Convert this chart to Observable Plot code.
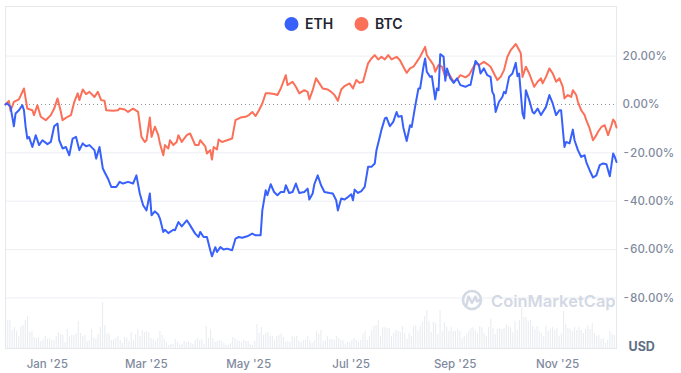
<!DOCTYPE html>
<html>
<head>
<meta charset="utf-8">
<script src="https://cdn.jsdelivr.net/npm/d3@7"></script>
<script src="https://cdn.jsdelivr.net/npm/@observablehq/plot@0.6"></script>
<style>
  html, body { margin: 0; padding: 0; background: #fff; }
  #chart { width: 681px; height: 373px; position: relative; font-family: Inter, "Noto Sans", sans-serif; }
</style>
</head>
<body>
<div id="chart"></div>
<script>
// ---- Data ----
// day offset from 2024-12-07, % change since start
const startDate = new Date(Date.UTC(2024, 11, 7));
const lastDay = 364;

const seriesNames = ["ETH", "BTC"];
const seriesColors = ["#3861fb", "#fb7059"];

const btcSeries = [[0,0],[2,1.5],[3,-2.6],[5,1.1],[8,2.1],[11,6.6],[13,-1.7],[16,-2.4],[17,-4.4],[19,-0.3],[21,-5.1],[24,-6.5],[27,-4.4],[29,-1.7],[31,2.5],[33,-3.1],[34,-6.5],[37,-5.1],[39,-4.4],[41,1.1],[43,4.6],[44,1.8],[46,6.2],[48,4.3],[50,5.2],[53,3.1],[55,5.2],[57,1.8],[59,1.5],[60,-2.4],[64,-2.6],[67,-2.4],[68,-1.7],[71,-2.1],[73,-3.1],[76,-1.7],[79,-3.1],[81,-13.4],[83,-15.5],[84,-14.8],[86,-5.4],[87,-13.4],[89,-9.2],[91,-12.7],[92,-16.1],[94,-21.0],[95,-16.8],[97,-18.2],[98,-14.8],[100,-16.8],[102,-15.5],[103,-12.7],[105,-15.5],[108,-12.7],[110,-12.0],[113,-16.8],[115,-16.8],[116,-14.8],[119,-17.3],[120,-20.3],[122,-18.9],[123,-22.8],[124,-17.6],[126,-18.6],[127,-14.5],[129,-15.5],[132,-14.8],[135,-14.1],[137,-6.5],[140,-5.4],[143,-5.1],[145,-4.4],[147,-3.1],[149,-4.8],[151,-2.4],[153,0.4],[155,4.6],[157,4.6],[160,4.3],[162,3.9],[164,6.6],[167,12.1],[168,8.0],[171,9.4],[173,7.3],[175,4.6],[178,5.9],[180,5.2],[181,2.1],[183,5.9],[185,10.8],[187,8.7],[189,6.6],[192,6.2],[194,5.2],[196,3.9],[198,1.5],[200,6.2],[202,7.6],[205,8.7],[207,6.6],[209,10.1],[211,8.9],[213,9.4],[216,17.0],[218,19.0],[220,20.4],[222,18.6],[224,19.7],[226,18.6],[228,20.4],[230,18.6],[233,19.7],[235,18.3],[237,15.6],[239,13.1],[241,14.9],[243,15.6],[245,17.6],[247,19.7],[250,23.8],[251,20.4],[253,18.3],[255,16.3],[256,13.5],[258,16.3],[260,15.6],[262,11.4],[264,12.8],[267,9.4],[269,10.4],[271,12.1],[274,11.2],[276,12.1],[277,13.2],[280,17.0],[282,16.3],[285,17.6],[287,16.7],[289,15.6],[291,12.8],[293,10.1],[295,11.4],[297,14.2],[299,19.7],[301,22.5],[304,25.0],[306,22.5],[307,21.1],[308,11.4],[310,15.6],[312,12.8],[315,7.3],[317,9.4],[319,10.8],[320,8.7],[322,11.4],[324,14.9],[326,12.8],[328,9.4],[330,10.8],[332,7.3],[333,2.5],[335,3.9],[337,3.1],[338,5.9],[340,3.9],[341,1.1],[343,-2.4],[345,-4.4],[346,-6.5],[348,-9.9],[350,-14.8],[352,-12.7],[353,-11.3],[355,-9.3],[357,-8.6],[359,-12.7],[361,-8.6],[362,-6.2],[363,-7.2],[364,-9.5]];

const ethSeries = [[0,0],[1,0.4],[3,-1.0],[5,-9.0],[6,-3.7],[8,-2.4],[10,-0.3],[11,-2.4],[12,-9.3],[13,-14.1],[14,-13.4],[16,-17.6],[18,-12.7],[20,-16.8],[22,-14.8],[25,-16.4],[27,-15.5],[29,-9.0],[31,-7.9],[32,-14.8],[34,-18.2],[36,-17.6],[38,-21.0],[40,-14.1],[42,-13.4],[44,-18.9],[46,-16.1],[48,-17.3],[50,-16.8],[53,-18.9],[54,-22.4],[56,-17.6],[58,-26.5],[59,-27.9],[61,-30.6],[63,-34.1],[66,-34.1],[68,-32.0],[70,-32.7],[73,-32.0],[76,-32.7],[78,-29.3],[80,-36.8],[82,-41.7],[84,-43.8],[86,-36.8],[87,-45.8],[89,-44.2],[91,-45.5],[92,-47.2],[94,-52.7],[95,-51.8],[97,-53.2],[100,-51.8],[101,-52.0],[103,-48.6],[105,-50.4],[108,-47.9],[110,-50.0],[113,-53.4],[115,-54.8],[116,-52.7],[118,-54.8],[120,-54.8],[122,-60.3],[123,-62.8],[125,-59.0],[126,-61.0],[128,-59.0],[130,-60.0],[132,-59.6],[135,-60.3],[137,-55.5],[139,-54.8],[141,-55.1],[144,-54.5],[147,-53.4],[149,-54.1],[152,-54.1],[153,-43.8],[155,-35.5],[156,-37.5],[158,-33.0],[160,-36.2],[162,-37.5],[164,-36.2],[166,-36.2],[167,-33.4],[169,-36.6],[171,-36.2],[173,-32.7],[175,-36.6],[178,-36.2],[180,-34.8],[181,-39.3],[183,-36.8],[184,-33.0],[186,-29.3],[188,-33.4],[190,-36.2],[193,-36.6],[195,-36.8],[197,-39.6],[198,-43.8],[200,-38.9],[202,-39.3],[204,-38.3],[206,-37.1],[207,-39.6],[208,-35.2],[210,-36.6],[212,-35.8],[214,-34.1],[216,-25.8],[218,-25.8],[220,-24.4],[221,-18.9],[223,-13.4],[224,-10.4],[226,-5.8],[227,-5.4],[229,-9.0],[231,-7.2],[233,-3.1],[234,-5.1],[236,-4.8],[237,-9.5],[239,-15.1],[241,-8.6],[242,-9.3],[244,-1.0],[246,6.6],[247,6.6],[249,15.6],[250,19.0],[251,13.5],[253,11.4],[254,11.7],[256,2.1],[257,6.6],[258,5.9],[259,20.8],[261,19.7],[262,9.8],[263,14.9],[265,10.8],[267,8.9],[269,10.8],[271,8.0],[274,7.3],[276,8.0],[277,8.0],[280,18.0],[282,16.3],[283,12.8],[285,14.9],[287,12.1],[289,11.4],[290,5.2],[291,3.9],[292,-3.1],[294,1.1],[296,3.1],[297,5.2],[298,4.6],[300,11.4],[302,12.8],[304,17.2],[305,11.7],[306,12.8],[308,-3.7],[309,-5.8],[310,5.9],[312,1.8],[314,-3.1],[315,-3.7],[317,-1.7],[319,-4.4],[322,-1.0],[324,3.9],[326,0.4],[328,-4.4],[330,-2.4],[331,-2.4],[333,-17.6],[334,-15.5],[336,-16.1],[338,-10.4],[339,-14.8],[341,-18.9],[343,-21.7],[345,-21.0],[346,-23.8],[348,-27.2],[350,-30.2],[352,-29.3],[354,-25.1],[356,-24.4],[358,-24.7],[360,-29.7],[362,-20.3],[363,-21.7],[364,-23.8]];

// relative trading volume (evenly spaced samples over the year)
const volume = [10,28,28,18,21,17,12,22,23,28,32,16,17,11,10,11,7,8,12,9,10,8,8,12,16,14,13,6,19,12,13,13,15,27,15,12,13,7,8,19,10,9,14,21,46,23,15,14,8,9,10,12,8,5,11,10,7,16,8,14,19,12,18,16,17,16,10,9,7,10,17,13,9,6,3,4,4,9,6,3,4,7,6,7,5,4,8,10,8,9,4,22,
  10,19,10,6,7,8,7,5,3,3,5,11,10,8,7,6,8,7,7,4,3,7,24,15,21,13,15,16,12,12,8,12,13,15,11,6,7,6,12,11,12,7,6,8,8,12,8,5,8,17,14,18,7,8,12,9,9,8,12,10,8,8,4,6,6,8,10,8,6,8,14,17,8,12,18,22,23,28,12,21,21,20,20,12,15,18,17,16,22,15,9,15,12,22,
  23,17,22,26,32,38,27,16,26,25,14,38,17,26,21,17,21,17,17,19,17,10,12,14,17,20,21,18,15,22,21,15,12,21,29,20,14,19,20,19,20,24,22,21,16,27,18,28,42,31,31,27,28,22,19,22,17,15,12,22,17,19,21,18,20,12,15,37,24,20,19,17,21,18,21,18,15,19,23,19,25,15,12,13,9,10,5,8,17,14,13,13];

const yTicks = [20, 0, -20, -40, -60, -80];
const xTicks = ["2025-01-01", "2025-03-01", "2025-05-01", "2025-07-01", "2025-09-01", "2025-11-01"];
const currencyLabel = "USD";
const watermarkText = "CoinMarketCap";

// ---- Build ----
const dayToDate = d => new Date(startDate.getTime() + d * 864e5);
const eth = ethSeries.map(([d, v]) => ({date: dayToDate(d), v}));
const btc = btcSeries.map(([d, v]) => ({date: dayToDate(d), v}));
const Y_MIN = -100.9, Y_MAX = 40.5;
const volY = d3.scaleLinear().domain([0, 50]).range([Y_MIN, Y_MIN + 50 * (Y_MAX - Y_MIN) / 342]);
const vol = volume.map((v, i) => ({date: dayToDate(i * lastDay / (volume.length - 1)), v}));
const grid = "#eceef2";
const tickColor = "#808a9d";
const FONT = "Inter, 'Noto Sans', sans-serif";

const plot = Plot.plot({
  width: 681,
  height: 373,
  marginLeft: 5,
  marginRight: 65,
  marginTop: 6,
  marginBottom: 25,
  style: {fontFamily: FONT, background: "#fff", overflow: "visible"},
  x: {type: "utc", domain: [startDate, dayToDate(lastDay)]},
  y: {domain: [Y_MIN, Y_MAX]},
  marks: [
    Plot.ruleY(yTicks.filter(t => t !== 0), {stroke: grid, strokeWidth: 1}),
    Plot.ruleX(vol, {x: "date", y1: Y_MIN, y2: d => volY(d.v), stroke: "#e9ecf1", strokeWidth: 1.1}),
    Plot.frame({stroke: "#e6e8ec"}),
    Plot.ruleY([0], {stroke: "#8e949e", strokeDasharray: "1,3", strokeWidth: 1}),
    Plot.line(btc, {x: "date", y: "v", stroke: seriesColors[1], strokeWidth: 2, strokeLinejoin: "round"}),
    Plot.line(eth, {x: "date", y: "v", stroke: seriesColors[0], strokeWidth: 2, strokeLinejoin: "round"}),
    Plot.axisY({anchor: "right", ticks: yTicks, tickSize: 0, tickPadding: 6, label: null,
      tickFormat: d => d.toFixed(2) + "%", color: tickColor, fontSize: 11.5, fontWeight: 500}),
    Plot.axisX({ticks: xTicks.map(s => new Date(s + "T00:00:00Z")), tickSize: 0, tickPadding: 11, label: null,
      tickFormat: d3.utcFormat("%b '%y"), color: tickColor, fontSize: 11.5, fontWeight: 500})
  ]
});

document.getElementById("chart").appendChild(plot);

const svg = d3.select(plot);

// watermark
const wm = svg.append("g").attr("pointer-events", "none").attr("text-anchor", "start");
wm.append("circle").attr("cx", 472).attr("cy", 300).attr("r", 9)
  .attr("fill", "none").attr("stroke", "#d3d9e4").attr("stroke-width", 2.6);
wm.append("path").attr("d", "M466.5,305 L468.5,296.5 L472,303 L475.5,296.5 L477,301.5 L479.5,300")
  .attr("fill", "none").attr("stroke", "#d3d9e4").attr("stroke-width", 2.4).attr("stroke-linejoin", "round").attr("stroke-linecap", "round");
wm.append("text").attr("x", 491).attr("y", 306.5).text(watermarkText)
  .attr("text-anchor", "start")
  .attr("font-size", 16.5).attr("font-weight", 600).attr("fill", "#d3d9e4")
  .attr("font-family", FONT);

// currency label
svg.append("text").attr("x", 628.5).attr("y", 350.5).text(currencyLabel)
  .attr("text-anchor", "start")
  .attr("font-size", 12.5).attr("font-weight", 700).attr("fill", "#616e85")
  .attr("font-family", FONT);

// legend
const legendX = [291.5, 361.5];
const lg = svg.append("g").attr("font-family", FONT).attr("text-anchor", "start");
seriesNames.forEach((name, i) => {
  lg.append("circle").attr("cx", legendX[i]).attr("cy", 24).attr("r", 7).attr("fill", seriesColors[i]);
  lg.append("text").attr("x", legendX[i] + 13.5).attr("y", 29).text(name)
    .attr("text-anchor", "start")
    .attr("font-size", 14).attr("font-weight", 600).attr("fill", "#222531");
});
</script>
</body>
</html>
